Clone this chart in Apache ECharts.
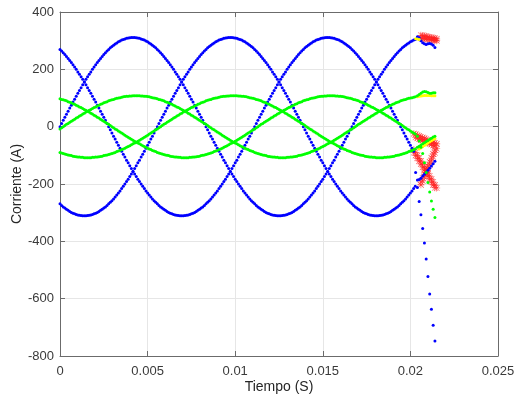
<!DOCTYPE html>
<html>
<head>
<meta charset="utf-8">
<script src="https://cdn.jsdelivr.net/npm/echarts@6/dist/echarts.min.js"></script>
<style>html,body{margin:0;padding:0;background:#fff}#c{width:515px;height:403px}</style>
</head>
<body>
<div id="c"></div>
<script>
// sample period of the dense clean part (s)
const SAMPLE_DT = 1 / 10800;
const xTicks = { min: 0, max: 0.025, interval: 0.005 };
const yTicks = { min: -800, max: 400, interval: 200 };

// Blue phase currents (A), clean part
const blueA = [0,11,22,33,43,54,65,75,86,96,106,117,126,136,146,156,165,174,183,191,200,208,216,224,231,238,245,252,258,264,269,275,280,284,288,292,296,299,302,304,306,308,309,310,311,311,
311,310,309,308,306,304,302,299,296,292,288,284,280,275,269,264,258,252,245,238,231,224,216,208,200,191,183,174,165,156,146,136,126,117,106,96,86,75,65,54,43,33,22,11,
0,-11,-22,-33,-43,-54,-65,-75,-86,-96,-106,-117,-126,-136,-146,-156,-165,-174,-183,-191,-200,-208,-216,-224,-231,-238,-245,-252,-258,-264,-269,-275,-280,-284,-288,-292,-296,-299,-302,-304,-306,-308,-309,-310,-311,-311,
-311,-310,-309,-308,-306,-304,-302,-299,-296,-292,-288,-284,-280,-275,-269,-264,-258,-252,-245,-238,-231,-224,-216,-208,-200,-191,-183,-174,-165,-156,-146,-136,-126,-117,-106,-96,-86,-75,-65,-54,-43,-33,-22,-11,
0,11,22,33,43,54,65,75,86,96,106,117,126,136,146,156,165,174,183,191,200,208,216,224,231,238,245,252,258,264,269,275,280,284,288,292,296,299,302,304];
const blueB = [269,264,258,252,245,238,231,224,216,208,200,191,183,174,165,156,146,136,126,117,106,96,86,75,65,54,43,33,22,11,
0,-11,-22,-33,-43,-54,-65,-75,-86,-96,-106,-117,-126,-136,-146,-156,-165,-174,-183,-191,-200,-208,-216,-224,-231,-238,-245,-252,-258,-264,-269,-275,-280,-284,-288,-292,-296,-299,-302,-304,-306,-308,-309,-310,-311,-311,
-311,-310,-309,-308,-306,-304,-302,-299,-296,-292,-288,-284,-280,-275,-269,-264,-258,-252,-245,-238,-231,-224,-216,-208,-200,-191,-183,-174,-165,-156,-146,-136,-126,-117,-106,-96,-86,-75,-65,-54,-43,-33,-22,-11,
0,11,22,33,43,54,65,75,86,96,106,117,126,136,146,156,165,174,183,191,200,208,216,224,231,238,245,252,258,264,269,275,280,284,288,292,296,299,302,304,306,308,309,310,311,311,
311,310,309,308,306,304,302,299,296,292,288,284,280,275,269,264,258,252,245,238,231,224,216,208,200,191,183,174,165,156,146,136,126,117,106,96,86,75,65,54,43,33,22,11,
0,-11,-22,-33,-43,-54,-65,-75,-86];
const blueC = [-269,-275,-280,-284,-288,-292,-296,-299,-302,-304,-306,-308,-309,-310,-311,-311,
-311,-310,-309,-308,-306,-304,-302,-299,-296,-292,-288,-284,-280,-275,-269,-264,-258,-252,-245,-238,-231,-224,-216,-208,-200,-191,-183,-174,-165,-156,-146,-136,-126,-117,-106,-96,-86,-75,-65,-54,-43,-33,-22,-11,
0,11,22,33,43,54,65,75,86,96,106,117,126,136,146,156,165,174,183,191,200,208,216,224,231,238,245,252,258,264,269,275,280,284,288,292,296,299,302,304,306,308,309,310,311,311,
311,310,309,308,306,304,302,299,296,292,288,284,280,275,269,264,258,252,245,238,231,224,216,208,200,191,183,174,165,156,146,136,126,117,106,96,86,75,65,54,43,33,22,11,
0,-11,-22,-33,-43,-54,-65,-75,-86,-96,-106,-117,-126,-136,-146,-156,-165,-174,-183,-191,-200,-208,-216,-224,-231,-238,-245,-252,-258,-264,-269,-275,-280,-284,-288,-292,-296,-299,-302,-304,-306,-308,-309,-310,-311,-311,
-311,-310,-309,-308,-306,-304,-302,-299,-296,-292,-288,-284,-280,-275,-269,-264,-258,-252,-245,-238,-231,-224,-216,-208];

// Green currents (A), clean part
const greenA = [-8,-4,
0,4,8,11,15,19,22,26,30,33,37,40,44,47,51,54,57,60,63,67,69,72,75,78,80,83,85,87,90,92,94,95,97,99,100,101,103,104,105,106,106,107,107,108,108,108,
108,108,107,107,106,106,105,104,103,101,100,99,97,95,94,92,90,87,85,83,80,78,75,72,69,67,63,60,57,54,51,47,44,40,37,33,30,26,22,19,15,11,8,4,
0,-4,-8,-11,-15,-19,-22,-26,-30,-33,-37,-40,-44,-47,-51,-54,-57,-60,-63,-67,-69,-72,-75,-78,-80,-83,-85,-87,-90,-92,-94,-95,-97,-99,-100,-101,-103,-104,-105,-106,-106,-107,-107,-108,-108,-108,
-108,-108,-107,-107,-106,-106,-105,-104,-103,-101,-100,-99,-97,-95,-94,-92,-90,-87,-85,-83,-80,-78,-75,-72,-69,-67,-63,-60,-57,-54,-51,-47,-44,-40,-37,-33,-30,-26,-22,-19,-15,-11,-8,-4,
0,4,8,11,15,19,22,26,30,33,37,40,44,47,51,54,57,60,63,67,69,72,75,78,80,83,85,87,90,92,94,95,97,99,100,101,103,104];
const greenB = [97,95,94,92,90,87,85,83,80,78,75,72,69,67,63,60,57,54,51,47,44,40,37,33,30,26,22,19,15,11,8,4,
0,-4,-8,-11,-15,-19,-22,-26,-30,-33,-37,-40,-44,-47,-51,-54,-57,-60,-63,-67,-69,-72,-75,-78,-80,-83,-85,-87,-90,-92,-94,-95,-97,-99,-100,-101,-103,-104,-105,-106,-106,-107,-107,-108,-108,-108,
-108,-108,-107,-107,-106,-106,-105,-104,-103,-101,-100,-99,-97,-95,-94,-92,-90,-87,-85,-83,-80,-78,-75,-72,-69,-67,-63,-60,-57,-54,-51,-47,-44,-40,-37,-33,-30,-26,-22,-19,-15,-11,-8,-4,
0,4,8,11,15,19,22,26,30,33,37,40,44,47,51,54,57,60,63,67,69,72,75,78,80,83,85,87,90,92,94,95,97,99,100,101,103,104,105,106,106,107,107,108,108,108,
108,108,107,107,106,106,105,104,103,101,100,99,97,95,94,92,90,87,85,83,80,78,75,72,69,67,63,60,57,54,51,47,44,40,37,33,30,26,22,19,15,11,8,4,
0,-4,-8,-11,-15,-19,-22,-26];
const greenC = [-90,-92,-94,-95,-97,-99,-100,-101,-103,-104,-105,-106,-106,-107,-107,-108,-108,-108,
-108,-108,-107,-107,-106,-106,-105,-104,-103,-101,-100,-99,-97,-95,-94,-92,-90,-87,-85,-83,-80,-78,-75,-72,-69,-67,-63,-60,-57,-54,-51,-47,-44,-40,-37,-33,-30,-26,-22,-19,-15,-11,-8,-4,
0,4,8,11,15,19,22,26,30,33,37,40,44,47,51,54,57,60,63,67,69,72,75,78,80,83,85,87,90,92,94,95,97,99,100,101,103,104,105,106,106,107,107,108,108,108,
108,108,107,107,106,106,105,104,103,101,100,99,97,95,94,92,90,87,85,83,80,78,75,72,69,67,63,60,57,54,51,47,44,40,37,33,30,26,22,19,15,11,8,4,
0,-4,-8,-11,-15,-19,-22,-26,-30,-33,-37,-40,-44,-47,-51,-54,-57,-60,-63,-67,-69,-72,-75,-78,-80,-83,-85,-87,-90,-92,-94,-95,-97,-99,-100,-101,-103,-104,-105,-106,-106,-107,-107,-108,-108,-108,
-108,-108,-107,-107,-106,-106,-105,-104,-103,-101,-100,-99,-97,-95,-94,-92,-90,-87,-85,-83,-80,-78];

// Disturbed tails [time (s), current (A)]
const blueATail = [[0.0204,314],[0.0205,310],[0.0206,300],[0.0207,293],[0.0208,289],[0.0209,287],[0.0210,289],[0.0211,290],[0.0212,288],[0.0213,284],[0.0214,276]];
const blueBTail = [[0.0203,-160],[0.0204,-212],[0.0205,-261],[0.0206,-307],[0.0207,-355],[0.0208,-406],[0.0209,-462],[0.0210,-523],[0.0211,-584],[0.0212,-637],[0.0213,-693],[0.0214,-748]];
const blueCTail = [[0.0204,-186],[0.0205,-184],[0.0206,-180],[0.0207,-172],[0.0208,-166],[0.0209,-160],[0.0210,-152],[0.0211,-145],[0.0212,-137],[0.0213,-129],[0.0214,-121]];
const greenATail = [[0.0204,108],[0.0205,112],[0.0206,117],[0.0207,121],[0.0208,123],[0.0209,122],[0.0210,119],[0.0211,117],[0.0212,117],[0.0213,118],[0.0214,118]];
const greenBTail = [[0.0204,-33],[0.0205,-50],[0.0206,-72],[0.0207,-94],[0.0208,-126],[0.0209,-160],[0.0210,-195],[0.0211,-228],[0.0212,-259],[0.0213,-288],[0.0214,-317]];
const greenCTail = [[0.0204,-72],[0.0205,-68],[0.0206,-64],[0.0207,-60],[0.0208,-56],[0.0209,-52],[0.0210,-48],[0.0211,-44],[0.0212,-40],[0.0213,-36],[0.0214,-33]];
const yellowPts = [[0.0203,307],[0.0204,306],[0.0205,304],
[0.0204,104],[0.0205,106],[0.0206,107],[0.0207,108],[0.0208,109],[0.0209,109],[0.0210,109],[0.0211,109],[0.0212,108],[0.0213,108],[0.0214,108],
[0.0205,-78],[0.0206,-74],[0.0207,-70],[0.0208,-66],[0.0209,-61],[0.0210,-57],[0.0211,-53],[0.0212,-49],[0.0213,-45],[0.0214,-41]];
const redTop = [[0.0206,319],[0.0207,318],[0.0208,316],[0.0209,315],[0.0210,313],[0.0211,312],[0.0212,311],[0.0213,309],[0.0214,308],[0.0215,306],
[0.0206,309],[0.0207,308],[0.0208,307],[0.0209,306],[0.0210,305],[0.0211,304],[0.0212,303],[0.0213,302],[0.0214,301],[0.0215,300]];
const redMid = [[0.0202,-24],[0.0203,-27],[0.0204,-30],[0.0205,-33],[0.0206,-36],[0.0207,-38],[0.0208,-41],[0.0209,-44],[0.0210,-47],[0.0211,-49],[0.0212,-52],[0.0213,-55],[0.0214,-57],[0.0215,-60],
[0.0203,-37],[0.0204,-40],[0.0205,-43],[0.0206,-46],[0.0207,-48],[0.0208,-51],[0.0209,-54],[0.0210,-57],[0.0211,-59],[0.0212,-62],[0.0213,-65],[0.0214,-67]];
const redArm1 = [[0.0202,-80],[0.0203,-90],[0.0204,-100],[0.0205,-110],[0.0206,-120],[0.0207,-131],[0.0208,-141],[0.0209,-151],[0.0210,-162],[0.0211,-172],[0.0212,-183],[0.0213,-193],[0.0214,-204],[0.0215,-214],
[0.0202,-90],[0.0203,-100],[0.0204,-110],[0.0205,-120],[0.0206,-130],[0.0207,-141],[0.0208,-151],[0.0209,-161],[0.0210,-172],[0.0211,-182],[0.0212,-193],[0.0213,-203],[0.0214,-213]];
const redArm2 = [[0.0206,-203],[0.0207,-189],[0.0208,-175],[0.0209,-161],[0.0210,-147],[0.0211,-133],[0.0212,-119],[0.0213,-105],[0.0214,-91],[0.0215,-77],
[0.0206,-193],[0.0207,-179],[0.0208,-165],[0.0209,-151],[0.0210,-137],[0.0211,-123],[0.0212,-109],[0.0213,-95],[0.0214,-81]];

function sampled(arr) { return arr.map((v, i) => [i * SAMPLE_DT, v]); }

const chart = echarts.init(document.getElementById('c'), null, { renderer: 'canvas' });
const FONT = 'Liberation Sans, Arial, Helvetica, sans-serif';
const axisLineStyle = { color: '#6b6b6b', width: 1 };
const STAR = 'path://M4.6,0H5.4V10H4.6Z M0,4.6H10V5.4H0Z M1.2,0.6L9.4,8.8L8.8,9.4L0.6,1.2Z M8.8,0.6L9.4,1.2L1.2,9.4L0.6,8.8Z';

const dot = (name, data, color, size) => ({
  name, type: 'scatter', data, symbol: 'circle', symbolSize: size,
  itemStyle: { color: color, opacity: 1 }, silent: true, animation: false
});

chart.setOption({
  animation: false,
  backgroundColor: '#ffffff',
  grid: { left: 60, right: 17, top: 12, bottom: 47, containLabel: false, outerBoundsMode: 'none' },
  xAxis: [{
    type: 'value', position: 'bottom', min: xTicks.min, max: xTicks.max, interval: xTicks.interval,
    name: 'Tiempo (S)', nameLocation: 'middle', nameGap: 24, nameMoveOverlap: false,
    nameTextStyle: { fontFamily: FONT, fontSize: 14, color: '#262626', verticalAlign: 'top' },
    axisLine: { show: true, onZero: false, lineStyle: axisLineStyle },
    axisTick: { show: true, inside: true, length: 5, lineStyle: axisLineStyle },
    axisLabel: { fontFamily: FONT, fontSize: 13, color: '#3a3a3a', margin: 9 },
    splitLine: { show: true, lineStyle: { color: '#e6e6e6', width: 1 } }
  }, {
    type: 'value', position: 'top', min: xTicks.min, max: xTicks.max, interval: xTicks.interval,
    axisLine: { show: true, onZero: false, lineStyle: axisLineStyle },
    axisTick: { show: true, inside: true, length: 5, lineStyle: axisLineStyle },
    axisLabel: { show: false }, splitLine: { show: false }
  }],
  yAxis: [{
    type: 'value', position: 'left', min: yTicks.min, max: yTicks.max, interval: yTicks.interval,
    name: 'Corriente (A)', nameLocation: 'middle', nameGap: 36, nameRotate: 90, nameMoveOverlap: false,
    nameTextStyle: { fontFamily: FONT, fontSize: 14, color: '#262626' },
    axisLine: { show: true, onZero: false, lineStyle: axisLineStyle },
    axisTick: { show: true, inside: true, length: 5, lineStyle: axisLineStyle },
    axisLabel: { fontFamily: FONT, fontSize: 13, color: '#3a3a3a', margin: 6 },
    splitLine: { show: true, lineStyle: { color: '#e6e6e6', width: 1 } }
  }, {
    type: 'value', position: 'right', min: yTicks.min, max: yTicks.max, interval: yTicks.interval,
    axisLine: { show: true, onZero: false, lineStyle: axisLineStyle },
    axisTick: { show: true, inside: true, length: 5, lineStyle: axisLineStyle },
    axisLabel: { show: false }, splitLine: { show: false }
  }],
  series: [
    { name: 'red', type: 'scatter', symbol: STAR, symbolSize: 7, silent: true,
      data: redTop.concat(redMid, redArm1, redArm2), itemStyle: { color: '#ff2020', opacity: 0.85 } },
    dot('blueA', sampled(blueA).concat(blueATail), '#0000ff', 3),
    dot('blueB', sampled(blueB).concat(blueBTail), '#0000ff', 3),
    dot('blueC', sampled(blueC).concat(blueCTail), '#0000ff', 3),
    dot('yellow', yellowPts, '#ffff00', 3),
    dot('greenA', sampled(greenA).concat(greenATail), '#00ff00', 3),
    dot('greenB', sampled(greenB).concat(greenBTail), '#00ff00', 3),
    dot('greenC', sampled(greenC).concat(greenCTail), '#00ff00', 3)
  ]
});
</script>
</body>
</html>
